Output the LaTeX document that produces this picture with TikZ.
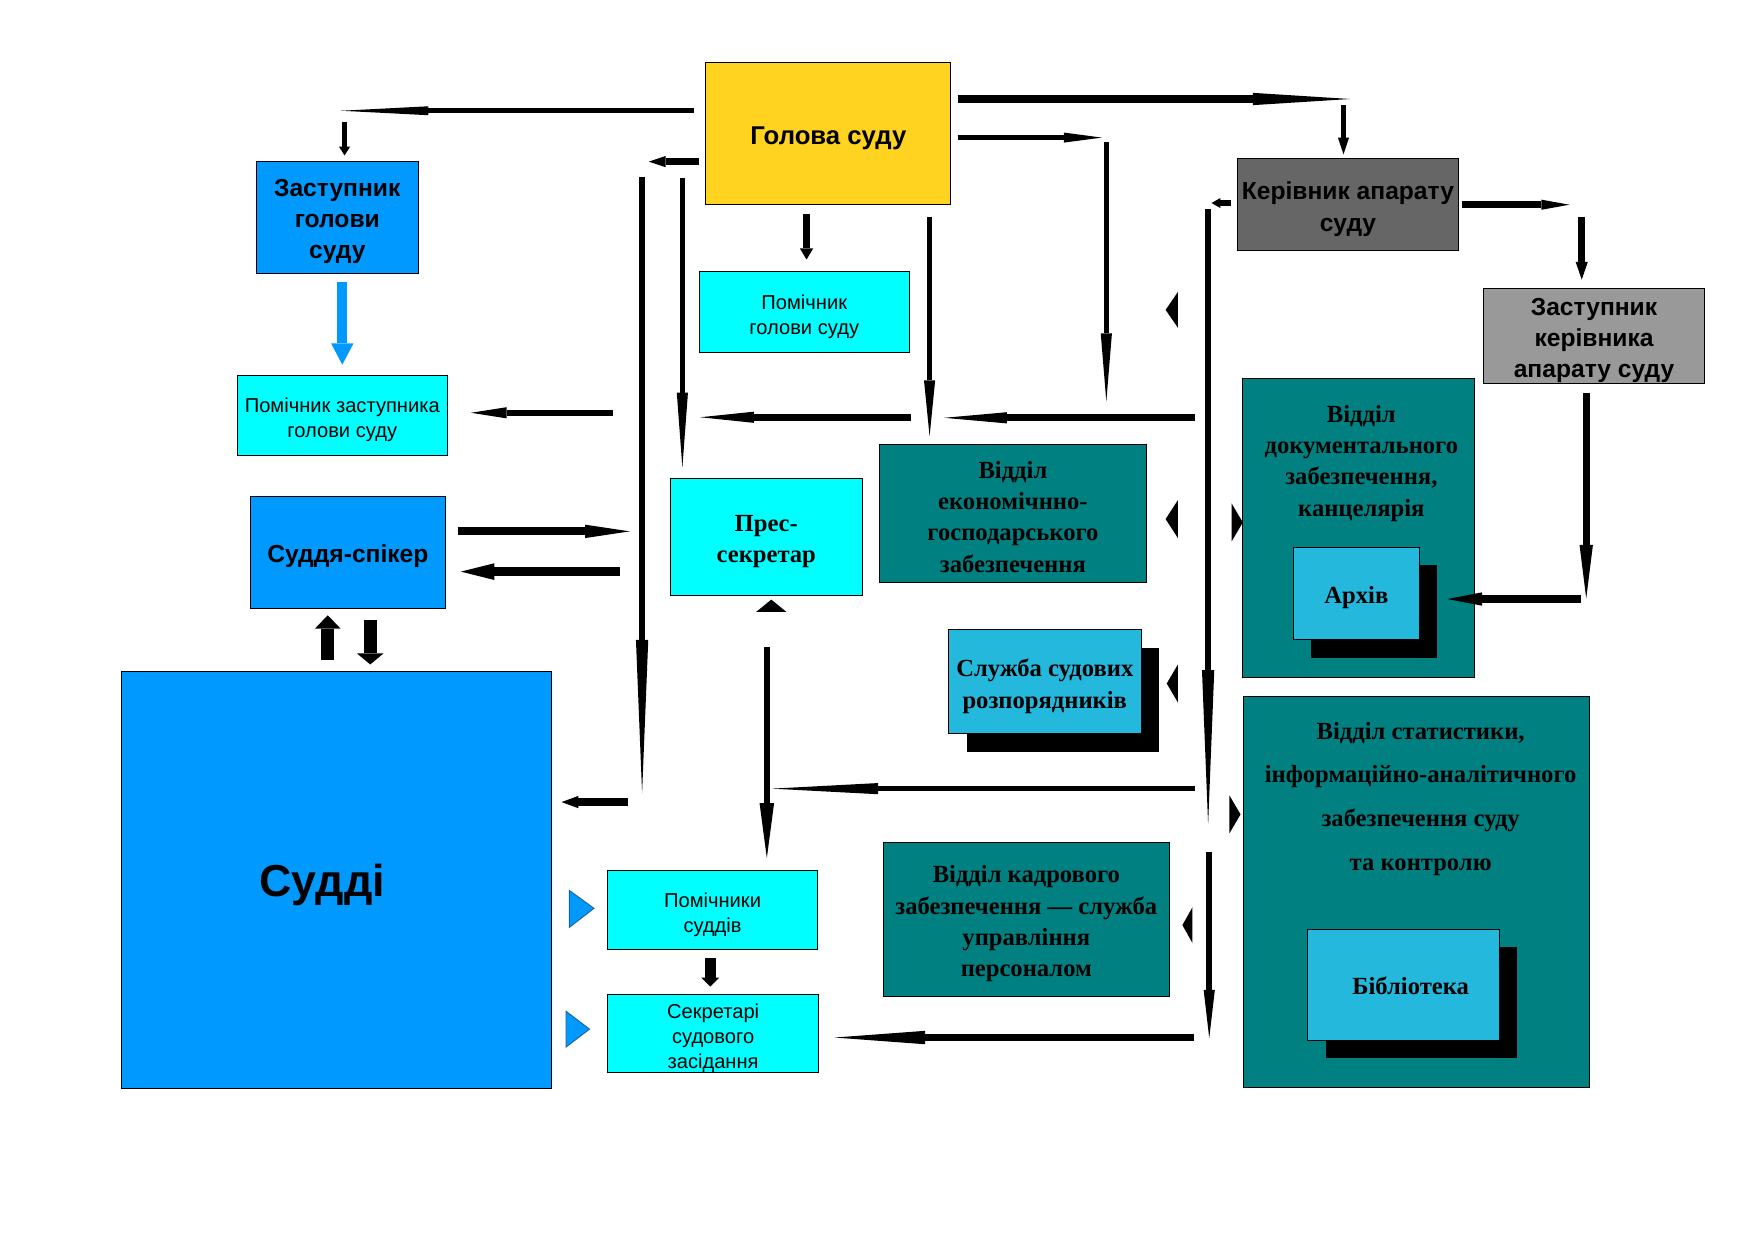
\documentclass[tikz,border=0pt]{standalone}
\usepackage{fontspec}
\setmainfont{Liberation Serif}
\setsansfont{Liberation Sans}
\usetikzlibrary{arrows.meta,shadows}
\definecolor{cYellow}{HTML}{FFD320}
\definecolor{cBlue}{HTML}{0099FF}
\definecolor{cCyan}{HTML}{00FFFF}
\definecolor{cTeal}{HTML}{008080}
\definecolor{cLBlue}{HTML}{23B8DC}
\definecolor{cDGray}{HTML}{666666}
\definecolor{cLGray}{HTML}{999999}
\definecolor{cBEdge}{HTML}{1464A0}
\tikzset{
  box/.style={draw=black, line width=0.8pt, inner sep=0pt, outer sep=0pt, anchor=north west},
  sz/.style 2 args={minimum width=#1pt, minimum height=#2pt},
  sansL/.style={font=\sffamily\bfseries\fontsize{22}{28}\selectfont, align=center, inner sep=0pt},
  sansS/.style={font=\sffamily\fontsize{18}{22.5}\selectfont, align=center, inner sep=0pt},
  serB/.style={font=\rmfamily\bfseries\fontsize{22}{28}\selectfont, align=center, inner sep=0pt},
  serBwide/.style={font=\rmfamily\bfseries\fontsize{22}{39}\selectfont, align=center, inner sep=0pt},
  shad/.style={drop shadow={shadow xshift=16pt,shadow yshift=-16pt,fill=black,opacity=1}},
  con/.style={draw=black, line width=#1pt},
  ah/.style 2 args={-{Triangle[length=#1pt,width=#2pt,line width=0pt]}},
  tri/.style={fill=black},
  btri/.style={fill=cBlue, draw=cBEdge, line width=0.8pt}
}
\begin{document}
\begin{tikzpicture}[x=1pt,y=-1pt]
\fill[white] (0,0) rectangle (1568,1109);
% ---------- boxes ----------
\node[box, fill=cYellow, sz={219}{127}] (gol) at (631,56) {};
\node[sansL, font=\sffamily\bfseries\fontsize{23}{28}\selectfont] (golT) at ([yshift=-4pt]gol.center) {Голова суду};
\node[box, fill=cBlue, sz={145}{100}] (zast) at (229,144) {};
\node[sansL] (zastT) at ([yshift=-4pt]zast.center) {Заступник\\голови\\суду};
\node[box, fill=cCyan, sz={188}{72}] (pomgol) at (625,243) {};
\node[sansS] (pomgolT) at ([yshift=-4pt]pomgol.center) {Помічник\\голови суду};
\node[box, fill=cCyan, sz={188}{71}] (pomzast) at (212,336) {};
\node[sansS] (pomzastT) at ([yshift=-4pt]pomzast.center) {Помічник заступника\\голови суду};
\node[box, fill=cBlue, sz={174}{100}] (spik) at (224,444) {};
\node[sansL] (spikT) at ([yshift=-3pt]spik.center) {Суддя-спікер};
\node[box, fill=cBlue, sz={384}{373}] (sud) at (109,600) {};
\node[font=\sffamily\bfseries\fontsize{40}{48}\selectfont, inner sep=0pt] (sudT) at (288,791) {Судді};
\node[box, fill=cCyan, sz={172}{104}] (pres) at (599,428) {};
\node[serB] (presT) at ([yshift=-4pt]pres.center) {Прес-\\секретар};
\node[box, fill=cTeal, sz={239}{124}] (ekon) at (786,397) {};
\node[serB] (ekonT) at ([yshift=-3pt]ekon.center) {Відділ\\економічнно-\\господарського\\забезпечення};
\node[box, fill=cLBlue, sz={172}{93}, shad] (sluzh) at (848,563) {};
\node[serB] (sluzhT) at ([yshift=-4pt]sluzh.center) {Служба судових\\розпорядників};
\node[box, fill=cDGray, sz={198}{82}] (ker) at (1106,142) {};
\node[sansL] (kerT) at ([yshift=-4pt]ker.center) {Керівник апарату\\суду};
\node[box, fill=cLGray, sz={198}{85}] (zker) at (1326,258) {};
\node[sansL] (zkerT) at ([yshift=-4pt]zker.center) {Заступник\\керівника\\апарату суду};
\node[box, fill=cTeal, sz={207}{268}] (dok) at (1111,338) {};
\node[serB] (dokT) at (1217,414) {Відділ\\документального\\забезпечення,\\канцелярія};
\node[box, fill=cLBlue, sz={113}{83}, shad] (arch) at (1156,489) {};
\node[serB] (archT) at ([yshift=-4pt]arch.center) {Архів};
\node[box, fill=cTeal, sz={309}{349}] (stat) at (1112,623) {};
\node[serBwide] (statT) at (1270,714) {Відділ статистики,\\інформаційно-аналітичного\\забезпечення суду\\та контролю};
\node[box, fill=cLBlue, sz={171}{99}, shad] (bib) at (1169,831) {};
\node[serB] (bibT) at (1261,881) {Бібліотека};
\node[box, fill=cTeal, sz={255}{138}] (kadr) at (790,753) {};
\node[serB] (kadrT) at ([yshift=-4pt]kadr.center) {Відділ кадрового\\забезпечення — служба\\управління\\персоналом};
\node[box, fill=cCyan, sz={188}{71}] (pomsud) at (543,778) {};
\node[sansS] (pomsudT) at ([yshift=-4pt]pomsud.center) {Помічники\\суддів};
\node[box, fill=cCyan, sz={189}{70}] (sekr) at (543,889) {};
\node[sansS] (sekrT) at ([yshift=-4pt]sekr.center) {Секретарі\\судового\\засідання};
% ---------- connector end points ----------
\coordinate (a1s) at (620,99);    \coordinate (a1e) at (305,99);
\coordinate (a2s) at (308,109);   \coordinate (a2e) at (308,139);
\coordinate (a3s) at (625,144.5); \coordinate (a3e) at (580,144.5);
\coordinate (a4s) at (856,88.5);  \coordinate (a4e) at (1207,88.5);
\coordinate (a5s) at (1201,94);   \coordinate (a5e) at (1201,138);
\coordinate (a6s) at (856,123);   \coordinate (a6e) at (985,123);
\coordinate (a7s) at (989,127);   \coordinate (a7e) at (989,359);
\coordinate (a8s) at (721,191);   \coordinate (a8e) at (721,232);
\coordinate (a9s) at (831,194);   \coordinate (a9e) at (831,390);
\coordinate (a10s) at (610,159);  \coordinate (a10e) at (610,418);
\coordinate (a11s) at (574,158);  \coordinate (a11e) at (574,709);
\coordinate (a12s) at (561,717);  \coordinate (a12e) at (502,717);
\coordinate (a13s) at (1068,373.5); \coordinate (a13e) at (844,373.5);
\coordinate (a14s) at (814,373);  \coordinate (a14e) at (626,373);
\coordinate (a15s) at (548,369);  \coordinate (a15e) at (421,369);
\coordinate (a16s) at (409,475);  \coordinate (a16e) at (563,475);
\coordinate (a17s) at (554,511);  \coordinate (a17e) at (412,511);
\coordinate (a18s) at (293,590);  \coordinate (a18e) at (293,550);
\coordinate (a19s) at (331,554);  \coordinate (a19e) at (331,594);
\coordinate (a20s) at (306,252);  \coordinate (a20e) at (306,326);
\coordinate (a21s) at (1100,181.5); \coordinate (a21e) at (1083,181.5);
\coordinate (a22s) at (1080,187); \coordinate (a22e) at (1080,737);
\coordinate (a23s) at (1081,762); \coordinate (a23e) at (1081,928);
\coordinate (a24s) at (1307,183); \coordinate (a24e) at (1403,183);
\coordinate (a25s) at (1414,194); \coordinate (a25e) at (1414,250);
\coordinate (a26s) at (1418,351); \coordinate (a26e) at (1418,535);
\coordinate (a27s) at (1413,535.5); \coordinate (a27e) at (1294,535.5);
\coordinate (a28s) at (1068,705); \coordinate (a28e) at (690,705);
\coordinate (a29s) at (685.5,578); \coordinate (a29e) at (685.5,767);
\coordinate (a30s) at (1067,927.5); \coordinate (a30e) at (746,927.5);
\coordinate (a31s) at (635,856.5); \coordinate (a31e) at (635,882);
% ---------- connectors ----------
\draw[con=4.5, ah={78}{8}] (a1s) -- (a1e);
\draw[con=5, ah={8}{10}] (a2s) -- (a2e);
\draw[con=6, ah={15}{10}] (a3s) -- (a3e);
\draw[con=6.5, ah={87}{11}] (a4s) -- (a4e);
\draw[con=5, ah={15}{10}] (a5s) -- (a5e);
\draw[con=5, ah={34}{9}] (a6s) -- (a6e);
\draw[con=5, ah={61}{10}] (a7s) -- (a7e);
\draw[con=6, ah={10}{12}] (a8s) -- (a8e);
\draw[con=5, ah={50}{10}] (a9s) -- (a9e);
\draw[con=5, ah={67}{10}] (a10s) -- (a10e);
\draw[con=5, ah={137}{11}] (a11s) -- (a11e);
\draw[con=7, ah={15}{11}] (a12s) -- (a12e);
\draw[con=6, ah={56}{10}] (a13s) -- (a13e);
\draw[con=6, ah={48}{10}] (a14s) -- (a14e);
\draw[con=5, ah={32}{10}] (a15s) -- (a15e);
\draw[con=7, ah={40}{12}] (a16s) -- (a16e);
\draw[con=8.5, ah={30}{15}] (a17s) -- (a17e);
\draw[con=12, ah={12}{23}] (a18s) -- (a18e);
\draw[con=12, ah={10}{24}] (a19s) -- (a19e);
\draw[con=9, draw=cBlue, ah={19}{20}] (a20s) -- (a20e);
\draw[con=6, ah={8}{9}] (a21s) -- (a21e);
\draw[con=5, ah={138}{11}] (a22s) -- (a22e);
\draw[con=5, ah={43}{10}] (a23s) -- (a23e);
\draw[con=6.5, ah={25}{9}] (a24s) -- (a24e);
\draw[con=6.5, ah={16}{11}] (a25s) -- (a25e);
\draw[con=6, ah={48}{12}] (a26s) -- (a26e);
\draw[con=7, ah={31}{12}] (a27s) -- (a27e);
\draw[con=5, ah={95}{10}] (a28s) -- (a28e);
\draw[con=5, ah={49}{13}] (a29s) -- (a29e);
\draw[con=7, ah={81}{12}] (a30s) -- (a30e);
\draw[con=10, ah={8}{16}] (a31s) -- (a31e);
% ---------- isolated arrowheads ----------
\fill[tri] (1042,277) -- (1053,261) -- (1053,293) -- cycle;
\fill[tri] (1042,464) -- (1053,447) -- (1053,481) -- cycle;
\fill[tri] (1043,611) -- (1053,594) -- (1053,628) -- cycle;
\fill[tri] (1057,827) -- (1066,811) -- (1066,843) -- cycle;
\fill[tri] (1111,467) -- (1101,450) -- (1101,484) -- cycle;
\fill[tri] (1109,728) -- (1099,711) -- (1099,745) -- cycle;
\fill[tri] (689.5,536) -- (676,547) -- (703,547) -- cycle;
\filldraw[btri] (531,812) -- (509,796) -- (509,829) -- cycle;
\filldraw[btri] (527,920) -- (506,904) -- (506,936) -- cycle;
\end{tikzpicture}
\end{document}
